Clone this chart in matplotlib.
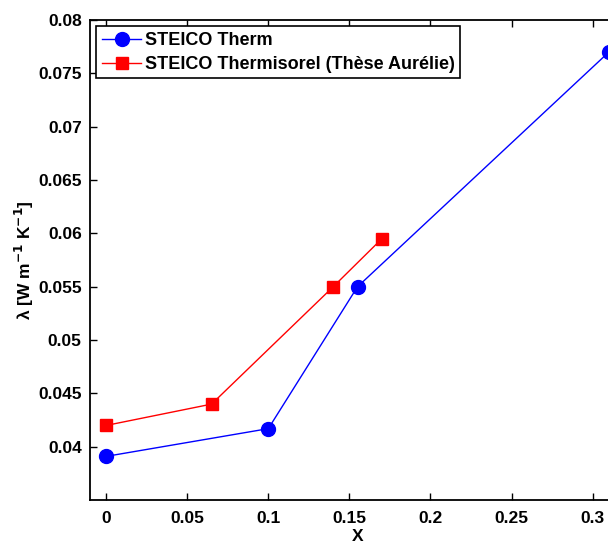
import numpy as np
import matplotlib.pyplot as plt

plt.rcParams['font.family'] = ['Liberation Sans', 'DejaVu Sans']
plt.rcParams['font.weight'] = 'bold'
plt.rcParams['mathtext.default'] = 'bf'

# STEICO Therm
x_therm = [0, 0.1, 0.155, 0.31]
lam_therm = [0.0391, 0.0417, 0.055, 0.077]

# STEICO Thermisorel (these Aurelie)
x_iso = [0, 0.065, 0.14, 0.17]
lam_iso = [0.042, 0.044, 0.055, 0.0595]

xticks = [0, 0.05, 0.1, 0.15, 0.2, 0.25, 0.3]
xticklabels = ['0', '0.05', '0.1', '0.15', '0.2', '0.25', '0.3']
yticks = [0.04, 0.045, 0.05, 0.055, 0.06, 0.065, 0.07, 0.075, 0.08]
yticklabels = ['0.04', '0.045', '0.05', '0.055', '0.06', '0.065', '0.07', '0.075', '0.08']

fig = plt.figure(figsize=(6.08, 5.43), dpi=100)
ax = fig.add_axes([0.148, 0.079, 0.88, 0.884])

ax.plot(x_therm, lam_therm, color='blue', marker='o', markersize=10,
        linewidth=1, label='STEICO Therm')
ax.plot(x_iso, lam_iso, color='red', marker='s', markersize=8,
        linewidth=1, label='STEICO Thermisorel (Thèse Aurélie)')

ax.set_xlim(-0.01, 0.32)
ax.set_ylim(0.035, 0.08)
ax.set_xticks(xticks)
ax.set_xticklabels(xticklabels)
ax.set_yticks(yticks)
ax.set_yticklabels(yticklabels)
ax.tick_params(direction='in', top=True, right=True, length=5, width=1,
               labelsize=12.5, pad=6)
ax.tick_params(axis='x', pad=8)
for s in ax.spines.values():
    s.set_linewidth(1.3)

ax.set_xlabel('X', fontsize=12.5, fontweight='bold', labelpad=2)
ax.set_ylabel(r'$\mathregular{\lambda}$ [W m$^{-1}$ K$^{-1}$]', fontsize=12.5,
              fontweight='bold')
ax.yaxis.set_label_coords(-0.10, 0.5)

leg = ax.legend(loc='upper left', fontsize=13, borderaxespad=0.35,
                fancybox=False, framealpha=1, handlelength=2.2,
                borderpad=0.3, labelspacing=0.4, handletextpad=0.2)
leg.get_frame().set_edgecolor('black')
leg.get_frame().set_linewidth(1.2)

fig.savefig('out.png', dpi=100)
